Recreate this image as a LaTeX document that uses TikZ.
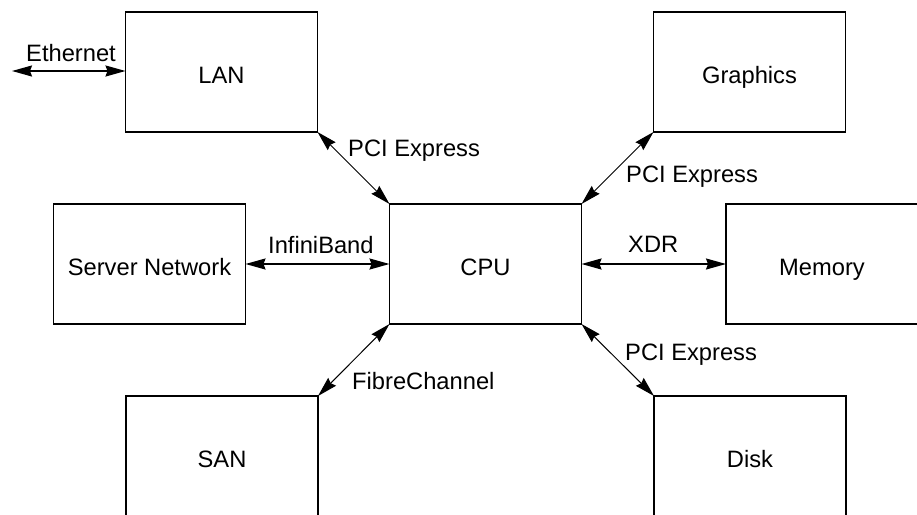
\documentclass[tikz,border=0pt]{standalone}
\usepackage{fontspec}
\setmainfont{Liberation Sans}
\usetikzlibrary{arrows.meta}
\begin{document}
\begin{tikzpicture}[x=1pt,y=-1pt,
  box/.style={draw,line width=1.5pt,minimum width=192pt,minimum height=120pt,inner sep=0pt,outer sep=0pt,text height=22pt,text depth=0pt,font=\fontsize{23.7}{28}\selectfont},
  lbl/.style={inner sep=0pt,anchor=base west,font=\fontsize{23.7}{28}\selectfont},
  thick link/.style={line width=1.6pt,{Stealth[length=20pt,width=11pt,inset=2pt]}-{Stealth[length=20pt,width=11pt,inset=2pt]}},
  thin link/.style={line width=1pt,{Stealth[length=20pt,width=11pt,inset=2pt]}-{Stealth[length=20pt,width=11pt,inset=2pt]}}]
\useasboundingbox (0,0) rectangle (917,514);
\fill[white] (0,0) rectangle (917,514);
\node[box] (lan) at (221.5,72) {LAN};
\node[box] (gfx) at (749.5,72) {Graphics};
\node[box] (srv) at (149.5,264) {Server Network};
\node[box] (cpu) at (485.5,264) {CPU};
\node[box] (mem) at (822,264) {Memory};
\node[box] (san) at (222,456) {SAN};
\node[box] (disk) at (750,456) {Disk};
\coordinate (eth) at (12,71);
\draw[thick link] (eth) -- (eth -| lan.west);
\draw[thick link] (srv.east) -- (cpu.west);
\draw[thick link] (cpu.east) -- (mem.west);
\draw[thin link] (lan.south east) -- (cpu.north west);
\draw[thin link] (gfx.south west) -- (cpu.north east);
\draw[thin link] (san.north east) -- (cpu.south west);
\draw[thin link] (disk.north west) -- (cpu.south east);
\node[lbl] (l1) at (26,61) {Ethernet};
\node[lbl] (l2) at (348,156) {PCI Express};
\node[lbl] (l3) at (626,182) {PCI Express};
\node[lbl] (l4) at (268,253) {InfiniBand};
\node[lbl] (l5) at (628,252) {XDR};
\node[lbl] (l6) at (352,389) {FibreChannel};
\node[lbl] (l7) at (625,360) {PCI Express};
\end{tikzpicture}
\end{document}
